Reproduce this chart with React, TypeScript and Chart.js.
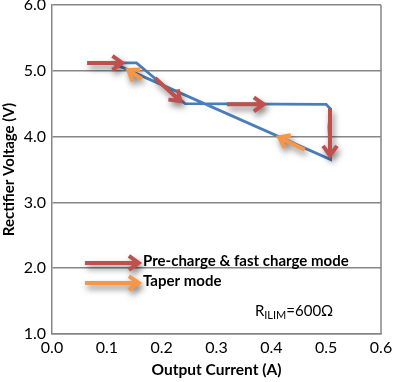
import React, { useEffect, useRef } from "react";
import { Chart, registerables } from "chart.js";

Chart.register(...registerables);

// Blue curve (Output Current A, Rectifier Voltage V)
const currentA = [0.11, 0.154, 0.243, 0.5, 0.508, 0.505, 0.508, 0.11];
const voltageV = [5.12, 5.12, 4.5, 4.49, 4.42, 4.15, 3.65, 5.12];

const xTicks = [0, 0.1, 0.2, 0.3, 0.4, 0.5, 0.6];
const yTicks = [1, 2, 3, 4, 5, 6];

// Arrows: [x tail, y tail, x head, y head] in data units
const redArrows = [
  [0.064, 5.12, 0.128, 5.12],
  [0.188, 4.89, 0.234, 4.54],
  [0.319, 4.49, 0.386, 4.49],
  [0.507, 4.43, 0.507, 3.71],
  [0.06, 2.08, 0.158, 2.08],
];
const orangeArrows = [
  [0.164, 4.875, 0.139, 5.01],
  [0.461, 3.8, 0.414, 3.99],
  [0.06, 1.775, 0.158, 1.775],
];

const legendLabels = ["Pre-charge & fast charge mode", "Taper mode"];
const legendPos = [
  [0.166, 2.1],
  [0.166, 1.8],
];
const noteMain = "R";
const noteSub = "ILIM";
const noteTail = "=600Ω";
const notePos = [0.37, 1.35];

const RED = "#c0504d";
const ORANGE = "#f79646";
const BLUE = "#4a7ebb";

function drawArrow(ctx: CanvasRenderingContext2D, x1: number, y1: number, x2: number, y2: number, color: string) {
  const ang = Math.atan2(y2 - y1, x2 - x1);
  const hl = 12;
  const ha = 0.62;
  ctx.save();
  ctx.strokeStyle = color;
  ctx.lineWidth = 4;
  ctx.lineCap = "butt";
  ctx.lineJoin = "miter";
  ctx.shadowColor = "rgba(0,0,0,0.5)";
  ctx.shadowBlur = 6;
  ctx.shadowOffsetX = 2;
  ctx.shadowOffsetY = 4;
  ctx.beginPath();
  ctx.moveTo(x1, y1);
  ctx.lineTo(x2 - Math.cos(ang) * 2, y2 - Math.sin(ang) * 2);
  ctx.moveTo(x2 - hl * Math.cos(ang - ha), y2 - hl * Math.sin(ang - ha));
  ctx.lineTo(x2, y2);
  ctx.lineTo(x2 - hl * Math.cos(ang + ha), y2 - hl * Math.sin(ang + ha));
  ctx.stroke();
  ctx.restore();
}

const annotPlugin = {
  id: "annot",
  afterDatasetsDraw(chart: any) {
    const { ctx, chartArea, scales } = chart;
    const xs = scales.x;
    const ys = scales.y;
    // right border
    ctx.save();
    ctx.strokeStyle = "#868686";
    ctx.lineWidth = 1.5;
    ctx.beginPath();
    ctx.moveTo(chartArea.right, chartArea.top);
    ctx.lineTo(chartArea.right, chartArea.bottom);
    ctx.stroke();
    ctx.restore();

    redArrows.forEach((a) =>
      drawArrow(ctx, xs.getPixelForValue(a[0]), ys.getPixelForValue(a[1]), xs.getPixelForValue(a[2]), ys.getPixelForValue(a[3]), RED)
    );
    orangeArrows.forEach((a) =>
      drawArrow(ctx, xs.getPixelForValue(a[0]), ys.getPixelForValue(a[1]), xs.getPixelForValue(a[2]), ys.getPixelForValue(a[3]), ORANGE)
    );

    ctx.save();
    ctx.fillStyle = "#000";
    ctx.textBaseline = "middle";
    ctx.textAlign = "left";
    ctx.font = "bold 15px Lato";
    legendLabels.forEach((t, i) => {
      ctx.fillText(t, xs.getPixelForValue(legendPos[i][0]), ys.getPixelForValue(legendPos[i][1]));
    });
    let nx = xs.getPixelForValue(notePos[0]);
    const ny = ys.getPixelForValue(notePos[1]);
    ctx.font = "15px Lato";
    ctx.fillText(noteMain, nx, ny);
    nx += ctx.measureText(noteMain).width;
    ctx.font = "11px Lato";
    ctx.fillText(noteSub, nx, ny + 4);
    nx += ctx.measureText(noteSub).width;
    ctx.font = "15px Lato";
    ctx.fillText(noteTail, nx, ny);
    ctx.restore();
  },
};

export default function App() {
  const ref = useRef<HTMLCanvasElement>(null);
  useEffect(() => {
    document.body.style.margin = "0";
    const ctx = ref.current!.getContext("2d")!;
    const chart = new Chart(ctx, {
      type: "scatter",
      data: {
        datasets: [
          {
            data: currentA.map((x, i) => ({ x, y: voltageV[i] })),
            showLine: true,
            borderColor: BLUE,
            borderWidth: 2.8,
            pointRadius: 0,
            tension: 0,
            fill: false,
          },
        ],
      },
      options: {
        animation: false,
        responsive: false,
        maintainAspectRatio: false,
        layout: { padding: { left: 0, right: 12, top: 5, bottom: 0 } },
        plugins: { legend: { display: false }, tooltip: { enabled: false } },
        scales: {
          x: {
            type: "linear",
            min: 0,
            max: 0.6,
            afterBuildTicks: (s: any) => {
              s.ticks = xTicks.map((v) => ({ value: v }));
            },
            afterFit: (s: any) => {
              s.height = 48;
              s.paddingLeft = 0;
              s.paddingRight = 0;
            },
            grid: { display: false, drawTicks: false },
            border: { display: true, color: "#868686", width: 1.5 },
            ticks: {
              padding: 4,
              color: "#000",
              font: { family: "Lato", size: 16 },
              maxRotation: 0,
              callback: (v: any) => Number(v).toFixed(1),
            },
            title: {
              display: true,
              text: "Output Current (A)",
              color: "#000",
              font: { family: "Lato", size: 15.5, weight: "bold" },
              padding: { top: 0, bottom: 3 },
            },
          },
          y: {
            type: "linear",
            min: 1,
            max: 6,
            afterBuildTicks: (s: any) => {
              s.ticks = yTicks.map((v) => ({ value: v }));
            },
            afterFit: (s: any) => {
              s.width = 52;
              s.paddingTop = 0;
              s.paddingBottom = 0;
            },
            grid: { display: true, color: "#868686", lineWidth: 1.5, drawTicks: false },
            border: { display: true, color: "#868686", width: 1.5 },
            ticks: {
              padding: 6,
              color: "#000",
              font: { family: "Lato", size: 16 },
              callback: (v: any) => Number(v).toFixed(1),
            },
            title: {
              display: true,
              text: "Rectifier Voltage (V)",
              color: "#000",
              font: { family: "Lato", size: 15, weight: "bold" },
              padding: { top: 0, bottom: 0 },
            },
          },
        },
      },
      plugins: [annotPlugin],
    } as any);
    return () => chart.destroy();
  }, []);
  return <canvas ref={ref} width={393} height={382} style={{ display: "block" }} />;
}
